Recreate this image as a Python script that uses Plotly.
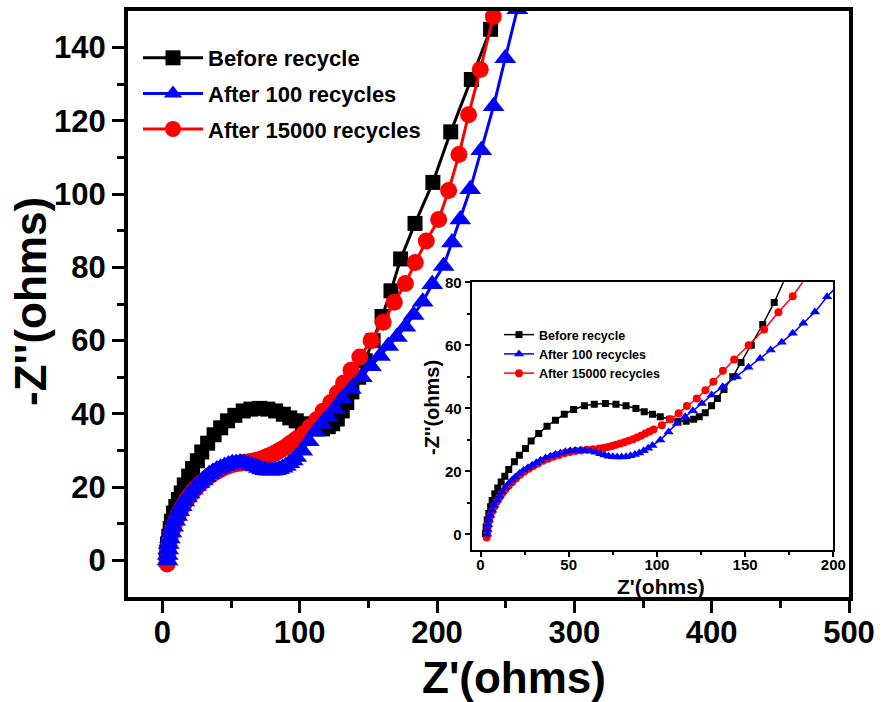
import plotly.graph_objects as go

# ---------------- data ----------------
names = ["Before recycle", "After 100 recycles", "After 15000 recycles"]
colors = ["#000000", "#0000ff", "#ff0000"]

before_x = [2.8, 3.2, 3.8, 4.7, 5.7, 6.6, 8.1, 9.8, 11.7, 13.8, 16.0, 19.2, 22.0, 25.5, 28.7,
            33.0, 37.7, 42.5, 47.5, 52.8, 58.9, 64.5, 70.8, 76.8, 82.5, 88.1, 92.8, 97.5,
            101.9, 107.2, 111.9, 116.6, 120.8, 124.0, 127.4, 131.0, 134.3, 138.0, 143.0,
            147.7, 153.5, 160.0, 166.5, 173.5, 184.0, 197.0, 210.0, 225.0, 239.0, 252.0]
before_y = [0.2, 2.3, 4.5, 6.6, 8.7, 10.7, 12.9, 14.7, 16.6, 18.4, 20.6, 23.0, 25.1, 27.2, 29.6,
            32.0, 34.3, 36.2, 38.1, 39.6, 40.8, 41.3, 41.5, 41.3, 40.8, 39.9, 38.9, 38.1,
            37.3, 36.5, 35.9, 35.9, 36.5, 37.3, 38.6, 40.8, 43.1, 46.0, 50.0,
            54.5, 60.0, 66.6, 73.6, 82.3, 92.0, 103.2, 117.0, 131.3, 145.0, 159.0]

after100_x = [3.8, 4.0, 4.3, 4.7, 5.5, 6.6, 7.9, 9.4, 10.8, 12.3, 14.1, 16.0, 17.9, 19.8, 22.1,
              24.5, 26.9, 29.3, 31.6, 34.0, 36.8, 39.6, 42.4, 45.3, 48.1, 50.9, 53.7, 56.6,
              59.4, 62.3, 65.1, 67.9, 70.3, 72.6, 75.0, 77.5, 80.0, 82.5, 85.0, 87.5, 90.0,
              92.5, 95.0, 97.5, 101.9, 106.6, 111.3, 116.0, 120.4, 125.5, 131.0, 137.3,
              145.3, 151.9, 158.5, 164.5, 170.8, 177.0, 183.0, 189.6, 196.5, 204.8, 210.9,
              216.9, 224.2, 232.2, 241.2, 249.7, 258.5]
after100_y = [0.0, 1.5, 3.0, 4.5, 6.0, 7.6, 9.2, 10.8, 12.1, 13.4, 14.8, 16.1, 17.2, 18.2, 19.3,
              20.3, 21.1, 21.9, 22.7, 23.5, 24.2, 24.8, 25.3, 25.8, 26.2, 26.5, 26.6, 26.7,
              26.6, 26.4, 26.0, 25.6, 25.2, 24.8, 24.6, 24.5, 24.5, 24.6, 24.9, 25.3, 25.8,
              26.5, 27.3, 28.2, 29.9, 32.5, 35.2, 37.3, 39.2, 41.5, 44.2, 46.8,
              50.0, 53.0, 55.8, 58.5, 61.0, 63.8, 67.0, 70.6, 75.4, 80.4, 86.8,
              93.1, 101.3, 112.0, 124.0, 137.1, 150.5]

after15000_x = [3.5, 3.8, 4.2, 4.8, 5.6, 6.6, 7.8, 9.2, 10.7, 12.3, 14.1, 16.0, 18.0, 20.1, 22.4,
                24.8, 27.3, 29.9, 32.6, 35.4, 38.3, 41.3, 44.4, 47.5, 50.7, 53.9, 57.2, 60.5,
                63.9, 67.3, 69.8, 72.2, 74.5, 76.8, 79.2, 81.6, 84.0, 86.4, 88.7, 91.0, 93.4,
                95.8, 98.1, 102.8, 107.5, 112.3, 117.0, 122.6, 127.5, 132.0, 137.4, 143.8,
                152.0, 160.8, 168.9, 177.0, 184.2, 192.2, 201.2, 208.5, 216.0, 223.0, 231.5,
                241.0, 250.5]
after15000_y = [-1.0, 0.8, 2.5, 4.2, 5.8, 7.3, 8.8, 10.3, 11.7, 13.0, 14.3, 15.5, 16.7, 17.8, 18.9,
                19.9, 20.8, 21.7, 22.5, 23.3, 24.0, 24.6, 25.2, 25.7, 26.1, 26.4, 26.6, 26.8,
                27.0, 27.2, 27.4, 27.7, 28.0, 28.4, 28.8, 29.2, 29.7, 30.2, 30.7, 31.3, 32.0,
                32.6, 33.3, 34.6, 36.5, 38.4, 40.7, 43.1, 45.7, 48.4, 51.9, 55.5,
                60.0, 65.0, 70.5, 75.6, 81.3, 87.2, 93.1, 101.0, 110.8, 121.7, 134.0,
                148.5, 163.0]

main_x_ticks = [0, 100, 200, 300, 400, 500]
main_y_ticks = [0, 20, 40, 60, 80, 100, 120, 140]
inset_x_ticks = [0, 50, 100, 150, 200]
inset_y_ticks = [0, 20, 40, 60, 80]

series = [
    (before_x, before_y, "square", 0),
    (after100_x, after100_y, "triangle-up", 1),
    (after15000_x, after15000_y, "circle", 2),
]

FONT = "Liberation Sans, Arial, sans-serif"
main_sizes = {"square": 15, "triangle-up": 19, "circle": 17}
inset_sizes = {"square": 7, "triangle-up": 9, "circle": 8}

fig = go.Figure()
# draw order: black, red, blue (blue on top); legend order via legendrank
draw_order = [0, 2, 1]
for idx in draw_order:
    xs, ys, sym, k = series[idx]
    fig.add_trace(go.Scatter(
        x=xs, y=ys, mode="lines+markers", name=names[k],
        line=dict(color=colors[k], width=3),
        marker=dict(symbol=sym, size=main_sizes[sym], color=colors[k]),
        xaxis="x", yaxis="y", legend="legend", legendgroup="m%d" % k,
        legendrank=k + 1,
    ))
for idx in draw_order:
    xs, ys, sym, k = series[idx]
    fig.add_trace(go.Scatter(
        x=xs, y=ys, mode="lines+markers", name=names[k],
        line=dict(color=colors[k], width=1.5),
        marker=dict(symbol=sym, size=inset_sizes[sym], color=colors[k]),
        xaxis="x2", yaxis="y2", legend="legend2", legendgroup="i%d" % k,
        legendrank=k + 1,
    ))

W, H = 882, 702
ml, mr, mt, mb = 128, 33, 11, 105
pw, ph = W - ml - mr, H - mt - mb


def px_x(p):
    return (p - ml) / pw


def px_y(p):
    return 1 - (p - mt) / ph


main_axis = dict(showgrid=False, zeroline=False, showline=True, mirror=True,
                 linecolor="black", linewidth=4, ticks="outside", ticklen=12,
                 tickwidth=3, tickcolor="black", automargin=False,
                 tickfont=dict(family=FONT, size=31, color="black", weight="bold"))
inset_axis = dict(showgrid=False, zeroline=False, showline=True, mirror=True,
                  linecolor="black", linewidth=2, ticks="outside", ticklen=5,
                  tickwidth=1.5, tickcolor="black", automargin=False,
                  tickfont=dict(family=FONT, size=15, color="black", weight="bold"))

fig.update_layout(
    width=W, height=H,
    margin=dict(l=ml, r=mr, t=mt, b=mb),
    paper_bgcolor="white", plot_bgcolor="white",
    showlegend=True,
    xaxis=dict(main_axis, range=[-25, 500], tickvals=main_x_ticks, ticklabelstandoff=-7,
               minor=dict(tickvals=[50, 150, 250, 350, 450], ticks="outside", ticklen=7,
                          tickwidth=3, tickcolor="black"),
               domain=[0, 1], anchor="y"),
    yaxis=dict(main_axis, range=[-10, 150], tickvals=main_y_ticks,
               minor=dict(tickvals=[10, 30, 50, 70, 90, 110, 130], ticks="outside", ticklen=7,
                          tickwidth=3, tickcolor="black"),
               domain=[0, 1], anchor="x"),
    xaxis2=dict(inset_axis, range=[-5, 200], tickvals=inset_x_ticks, ticklabelstandoff=-5,
                minor=dict(tickvals=[25, 75, 125, 175], ticks="outside", ticklen=3,
                           tickwidth=1.5, tickcolor="black"),
                domain=[px_x(471.7), px_x(833.3)], anchor="y2"),
    yaxis2=dict(inset_axis, range=[-5, 80], tickvals=inset_y_ticks,
                minor=dict(tickvals=[10, 30, 50, 70], ticks="outside", ticklen=3,
                           tickwidth=1.5, tickcolor="black"),
                domain=[px_y(550), px_y(282.3)], anchor="x2"),
    legend=dict(x=px_x(138), y=px_y(37), xanchor="left", yanchor="top",
                bgcolor="rgba(0,0,0,0)", itemwidth=60, tracegroupgap=4,
                font=dict(family=FONT, size=22, color="black", weight="bold")),
    legend2=dict(x=px_x(499), y=px_y(320), xanchor="left", yanchor="top",
                 bgcolor="rgba(0,0,0,0)", itemwidth=30, tracegroupgap=0,
                 font=dict(family=FONT, size=12.5, color="black", weight="bold")),
    annotations=[
        dict(text="Z'(ohms)", xref="paper", yref="paper", x=px_x(514), y=px_y(677),
             xanchor="center", yanchor="middle", showarrow=False,
             font=dict(family=FONT, size=44, color="black", weight="bold")),
        dict(text="-Z''(ohms)", xref="paper", yref="paper", x=px_x(31), y=px_y(302),
             xanchor="center", yanchor="middle", showarrow=False, textangle=-90,
             font=dict(family=FONT, size=44, color="black", weight="bold")),
        dict(text="Z'(ohms)", xref="paper", yref="paper", x=px_x(661), y=px_y(586),
             xanchor="center", yanchor="middle", showarrow=False,
             font=dict(family=FONT, size=21, color="black", weight="bold")),
        dict(text="-Z''(ohms)", xref="paper", yref="paper", x=px_x(432), y=px_y(408),
             xanchor="center", yanchor="middle", showarrow=False, textangle=-90,
             font=dict(family=FONT, size=20, color="black", weight="bold")),
    ],
)

fig.write_html("out.html")
